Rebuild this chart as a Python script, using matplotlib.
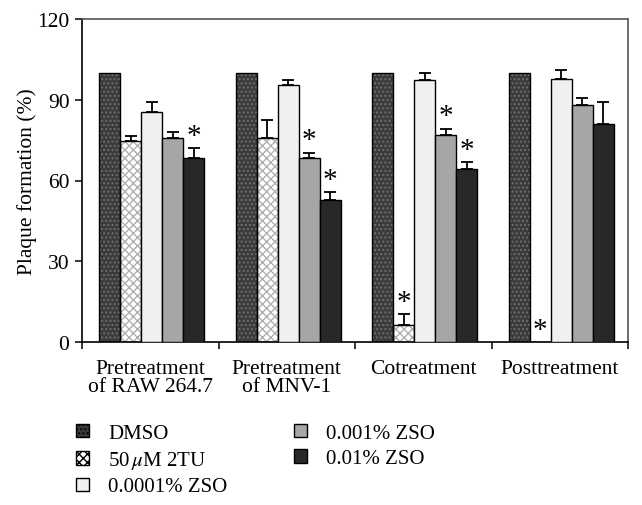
import matplotlib

matplotlib.use("Agg")
import matplotlib.pyplot as plt
from matplotlib.patches import Patch

plt.rcParams["font.family"] = ["Liberation Serif", "DejaVu Serif"]
plt.rcParams["mathtext.fontset"] = "stix"

groups = ["Pretreatment\nof RAW 264.7", "Pretreatment\nof MNV-1", "Cotreatment", "Posttreatment"]
series = ["DMSO", "50$\\,\\mu$M 2TU", "0.0001% ZSO", "0.001% ZSO", "0.01% ZSO"]

# values per series, one entry per group
dmso = [100, 100, 100, 100]
tu2 = [74.5, 75.9, 6.3, 0]
zso_0001 = [85.4, 95.4, 97.2, 97.7]
zso_001 = [75.9, 68.3, 77.0, 88.1]
zso_01 = [68.3, 52.8, 64.1, 81.0]

dmso_err = [0, 0, 0, 0]
tu2_err = [2.1, 6.5, 4.1, 0]
zso_0001_err = [3.9, 2.1, 2.9, 3.5]
zso_001_err = [2.1, 2.1, 2.3, 2.7]
zso_01_err = [3.8, 2.8, 2.9, 8.0]

# significance stars (True = starred)
dmso_star = [False, False, False, False]
tu2_star = [False, False, True, True]
zso_0001_star = [False, False, False, False]
zso_001_star = [False, True, True, False]
zso_01_star = [True, True, True, False]

values = [dmso, tu2, zso_0001, zso_001, zso_01]
errors = [dmso_err, tu2_err, zso_0001_err, zso_001_err, zso_01_err]
stars = [dmso_star, tu2_star, zso_0001_star, zso_001_star, zso_01_star]

faces = ["#3b3b3b", "white", "#f0f0f0", "#a6a6a6", "#282828"]
hatches = ["....", "xxxx", None, None, None]
hatch_colors = ["#6e6e6e", "#b0b0b0", None, None, None]

fig = plt.figure(figsize=(6.42, 5.06), dpi=100)
ax = fig.add_axes([82 / 642, 1 - 343 / 506, 546 / 642, 323 / 506])

width = 0.154
for j, (vals, errs, marks) in enumerate(zip(values, errors, stars)):
    xs = [i + 0.51 + (j - 2) * width for i in range(len(groups))]
    if hatches[j]:
        # hatch colour follows edgecolor, so draw the texture first then the black outline
        ax.bar(xs, vals, width, color=faces[j], edgecolor=hatch_colors[j],
               hatch=hatches[j], linewidth=0, zorder=2)
        ax.bar(xs, vals, width, fill=False, edgecolor="black", linewidth=1.0, zorder=3)
    else:
        ax.bar(xs, vals, width, color=faces[j], edgecolor="black", linewidth=1.0, zorder=3)
    for x, v, e, m in zip(xs, vals, errs, marks):
        if e > 0:
            ax.errorbar(x, v, yerr=[[0], [e]], fmt="none", ecolor="black",
                        elinewidth=1.3, capsize=4, capthick=1.3, zorder=4)
        if m:
            ax.text(x, v + e + 4.5, "*", ha="center", va="center", fontsize=21, zorder=5)

ax.set_xlim(0, 4)
ax.set_ylim(0, 120)
ax.set_yticks([0, 30, 60, 90, 120])
ax.set_xticks([0, 1, 2, 3, 4])
ax.set_xticklabels([])
ax.set_xticks([i + 0.5 for i in range(len(groups))], minor=True)
ax.set_xticklabels(groups, minor=True, fontsize=15.5, linespacing=0.95)
ax.tick_params(axis="x", which="minor", length=0, pad=12)
ax.tick_params(axis="x", which="major", direction="out", length=5, width=1.1)
ax.tick_params(axis="y", direction="out", length=5, width=1.1, labelsize=15.5, pad=4)
ax.set_ylabel("Plaque formation (%)", fontsize=15.5, labelpad=0)

for side in ("left", "bottom"):
    ax.spines[side].set_color("black")
    ax.spines[side].set_linewidth(1.2)
for side in ("top", "right"):
    ax.spines[side].set_color("#555555")
    ax.spines[side].set_linewidth(1.2)

handles = []
for j in range(len(series)):
    handles.append(Patch(facecolor=faces[j], edgecolor="black", linewidth=1.0,
                         hatch=hatches[j] if hatches[j] else None))
leg = fig.legend(handles, series, loc="upper left", ncol=2,
                 bbox_to_anchor=(76 / 642, 1 - 425 / 506), frameon=False,
                 fontsize=15, handlelength=0.6, handleheight=0.6,
                 handletextpad=0.95, columnspacing=3.2, labelspacing=0.3,
                 borderpad=0, borderaxespad=0)

fig.savefig("out.png", dpi=100)
